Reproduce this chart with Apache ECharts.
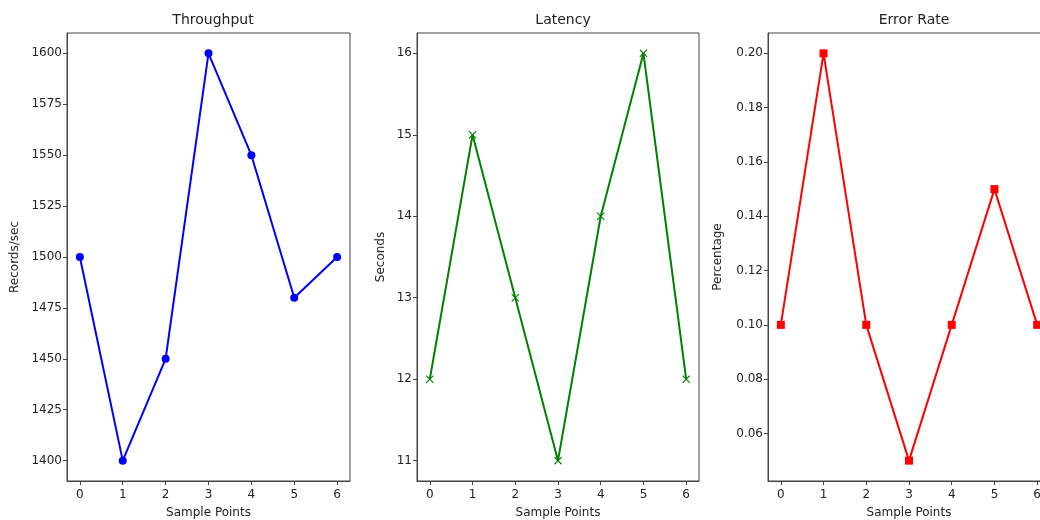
<!DOCTYPE html>
<html>
<head>
<meta charset="utf-8">
<script src="https://cdn.jsdelivr.net/npm/echarts@6/dist/echarts.min.js"></script>
<style>
    html, body { margin: 0; padding: 0; background: #fff; overflow: hidden; }
    /* the right panel runs past the window edge, as in the reference */
    #chart { width: 1060px; height: 520px; }
</style>
</head>
<body>
<div id="chart"></div>
<script>
// data
var samplePoints = [0, 1, 2, 3, 4, 5, 6];
var throughput = [1500, 1400, 1450, 1600, 1550, 1480, 1500];
var latency = [12, 15, 13, 11, 14, 16, 12];
var errorRate = [0.10, 0.20, 0.10, 0.05, 0.10, 0.15, 0.10];

// tick labels
var xTicks = [0, 1, 2, 3, 4, 5, 6];
var throughputTicks = [1400, 1425, 1450, 1475, 1500, 1525, 1550, 1575, 1600];
var latencyTicks = [11, 12, 13, 14, 15, 16];
var errorTicks = [0.06, 0.08, 0.10, 0.12, 0.14, 0.16, 0.18, 0.20];

var font = "DejaVu Sans";
var textColor = "#222";
var spineColor = "#444";

function pairs(values) {
    return samplePoints.map(function (x, i) {
        return [x, values[i]];
    });
}

function xAxis(idx) {
    return {
        type: "value",
        gridIndex: idx,
        min: -0.3,
        max: 6.3,
        name: "Sample Points",
        nameLocation: "middle",
        nameGap: 26,
        nameTextStyle: { fontFamily: font, fontSize: 12, color: textColor },
        axisLine: { show: true, onZero: false, lineStyle: { color: spineColor, width: 1 } },
        axisTick: { show: true, customValues: xTicks, length: 4, lineStyle: { color: spineColor } },
        axisLabel: { customValues: xTicks, fontFamily: font, fontSize: 12, color: textColor, margin: 8 },
        splitLine: { show: false },
    };
}

function yAxis(idx, name, min, max, ticks, digits, gap) {
    return {
        type: "value",
        gridIndex: idx,
        min: min,
        max: max,
        name: name,
        nameLocation: "middle",
        nameRotate: 90,
        nameGap: gap,
        nameTextStyle: { fontFamily: font, fontSize: 12, color: textColor },
        axisLine: { show: true, onZero: false, lineStyle: { color: spineColor, width: 1 } },
        axisTick: { show: true, customValues: ticks, length: 4, lineStyle: { color: spineColor } },
        axisLabel: {
            customValues: ticks,
            fontFamily: font,
            fontSize: 12,
            color: textColor,
            margin: 5,
            formatter: function (v) {
                return v.toFixed(digits);
            },
        },
        splitLine: { show: false },
    };
}

var xMark = "path://M0,1L1,0L5,4L9,0L10,1L6,5L10,9L9,10L5,6L1,10L0,9L4,5Z";

var chart = echarts.init(document.getElementById("chart"));

var option = {
    animation: false,
    backgroundColor: "#fff",
    title: [
        { text: "Throughput", left: 208, top: 8, textAlign: "center" },
        { text: "Latency", left: 558, top: 8, textAlign: "center" },
        { text: "Error Rate", left: 909, top: 8, textAlign: "center" },
    ].map(function (t) {
        t.textStyle = { fontFamily: font, fontSize: 14, fontWeight: "normal", color: textColor };
        return t;
    }),
    grid: [
        { left: 67, top: 33, width: 283, height: 448, show: true, borderColor: spineColor, borderWidth: 1, outerBoundsMode: "none" },
        { left: 417, top: 33, width: 282, height: 448, show: true, borderColor: spineColor, borderWidth: 1, outerBoundsMode: "none" },
        { left: 768, top: 33, width: 282, height: 448, show: true, borderColor: spineColor, borderWidth: 1, outerBoundsMode: "none" },
    ],
    xAxis: [xAxis(0), xAxis(1), xAxis(2)],
    yAxis: [
        yAxis(0, "Records/sec", 1390, 1610, throughputTicks, 0, 46),
        yAxis(1, "Seconds", 10.75, 16.25, latencyTicks, 0, 30),
        yAxis(2, "Percentage", 0.0425, 0.2075, errorTicks, 2, 44),
    ],
    series: [
        {
            type: "line",
            xAxisIndex: 0,
            yAxisIndex: 0,
            data: pairs(throughput),
            color: "#0000ff",
            symbol: "circle",
            symbolSize: 8,
            lineStyle: { width: 2 },
        },
        {
            type: "line",
            xAxisIndex: 1,
            yAxisIndex: 1,
            data: pairs(latency),
            color: "#008000",
            symbol: xMark,
            symbolSize: 8,
            lineStyle: { width: 2 },
        },
        {
            type: "line",
            xAxisIndex: 2,
            yAxisIndex: 2,
            data: pairs(errorRate),
            color: "#ff0000",
            symbol: "rect",
            symbolSize: 8,
            lineStyle: { width: 2 },
        },
    ],
};

chart.setOption(option);
</script>
</body>
</html>
